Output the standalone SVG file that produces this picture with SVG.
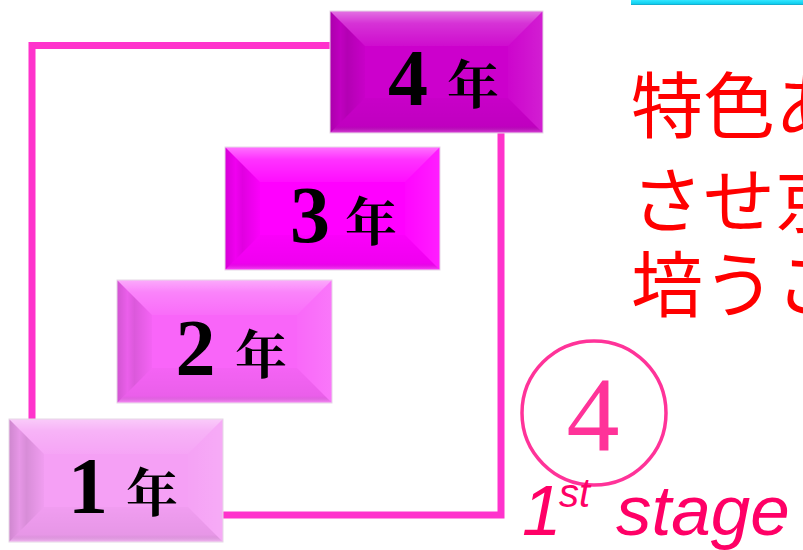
<svg xmlns="http://www.w3.org/2000/svg" width="803" height="550" viewBox="0 0 803 550">
<style>
.frame{fill:none;stroke:#ff33cc;stroke-width:7}
.edge{fill:none;stroke:#e6d8e6;stroke-width:1}
.bt{fill:url(#gTop)}
.bl{fill:url(#gLeft)}
.bb{fill:url(#gBot)}
.br{fill:url(#gRight)}
.num{font-family:"Liberation Serif","Times New Roman",serif;font-weight:bold;font-size:80px;fill:#000;text-anchor:middle}
.nen{font-family:"Noto Serif CJK JP","Noto Sans CJK JP",serif;font-weight:bold;font-size:52px;fill:#000;text-anchor:middle}
.red{font-family:"Noto Sans CJK JP","Noto Sans CJK SC",sans-serif;font-size:72px;fill:#ff0000}
.stage{font-family:"Liberation Sans",Arial,sans-serif;font-style:italic;fill:#ff0066}
.cnum{font-family:"Liberation Serif","Times New Roman",serif;font-size:106px;fill:#ff3399;text-anchor:middle}
</style>
<defs>
<linearGradient id="gTop" x1="0" y1="0" x2="0" y2="1">
<stop offset="0" stop-color="#fff" stop-opacity="0.45"/>
<stop offset="0.35" stop-color="#fff" stop-opacity="0.2"/>
<stop offset="1" stop-color="#fff" stop-opacity="0.05"/>
</linearGradient>
<linearGradient id="gLeft" x1="0" y1="0" x2="1" y2="0">
<stop offset="0" stop-color="#000" stop-opacity="0.16"/>
<stop offset="0.3" stop-color="#000" stop-opacity="0.06"/>
<stop offset="0.5" stop-color="#000" stop-opacity="0.12"/>
<stop offset="1" stop-color="#000" stop-opacity="0.02"/>
</linearGradient>
<linearGradient id="gBot" x1="0" y1="0" x2="0" y2="1">
<stop offset="0" stop-color="#000" stop-opacity="0.02"/>
<stop offset="0.8" stop-color="#000" stop-opacity="0.06"/>
<stop offset="1" stop-color="#fff" stop-opacity="0.3"/>
</linearGradient>
<linearGradient id="gRight" x1="0" y1="0" x2="1" y2="0">
<stop offset="0" stop-color="#fff" stop-opacity="0.02"/>
<stop offset="1" stop-color="#fff" stop-opacity="0.12"/>
</linearGradient>
<linearGradient id="gCyan" x1="0" y1="0" x2="0" y2="1">
<stop offset="0" stop-color="#33e6ff"/>
<stop offset="0.7" stop-color="#11d0f0"/>
<stop offset="1" stop-color="#1a9fc0"/>
</linearGradient>
</defs>

<rect x="631" y="0" width="172" height="5" fill="url(#gCyan)"/>

<g id="connectors">
<rect class="frame" x="32" y="45.5" width="469" height="469.5"/>
</g>

<g id="year4">
<rect x="330" y="11" width="213" height="122" fill="#cc00cc"/>
<polygon class="bt" points="330,11 543,11 508,46 365,46"/>
<polygon class="bl" points="330,11 365,46 365,98 330,133"/>
<polygon class="bb" points="330,133 365,98 508,98 543,133"/>
<polygon class="br" points="543,11 508,46 508,98 543,133"/>
<rect class="edge" x="330" y="11" width="213" height="122"/>
<text class="num" x="408" y="105">4</text>
<text class="nen" x="473" y="104">年</text>
</g>

<g id="year3">
<rect x="225" y="147" width="215" height="123" fill="#ff00ff"/>
<polygon class="bt" points="225,147 440,147 405,182 260,182"/>
<polygon class="bl" points="225,147 260,182 260,235 225,270"/>
<polygon class="bb" points="225,270 260,235 405,235 440,270"/>
<polygon class="br" points="440,147 405,182 405,235 440,270"/>
<rect class="edge" x="225" y="147" width="215" height="123"/>
<text class="num" x="310" y="242">3</text>
<text class="nen" x="371" y="241">年</text>
</g>

<g id="year2">
<rect x="117" y="280" width="215" height="123" fill="#f965f9"/>
<polygon class="bt" points="117,280 332,280 297,315 152,315"/>
<polygon class="bl" points="117,280 152,315 152,368 117,403"/>
<polygon class="bb" points="117,403 152,368 297,368 332,403"/>
<polygon class="br" points="332,280 297,315 297,368 332,403"/>
<rect class="edge" x="117" y="280" width="215" height="123"/>
<text class="num" x="195.5" y="375">2</text>
<text class="nen" x="261" y="374">年</text>
</g>

<g id="year1">
<rect x="9" y="419" width="214" height="123" fill="#f5a0f5"/>
<polygon class="bt" points="9,419 223,419 188,454 44,454"/>
<polygon class="bl" points="9,419 44,454 44,507 9,542"/>
<polygon class="bb" points="9,542 44,507 188,507 223,542"/>
<polygon class="br" points="223,419 188,454 188,507 223,542"/>
<rect class="edge" x="9" y="419" width="214" height="123"/>
<text class="num" x="88" y="513">1</text>
<text class="nen" x="152" y="512">年</text>
</g>

<g id="stage-mark">
<circle cx="594" cy="413" r="72" fill="none" stroke="#ff3399" stroke-width="3.5"/>
<text class="cnum" x="593" y="450">4</text>
<text class="stage" font-size="71"><tspan x="522" y="535">1</tspan><tspan x="559" y="507" font-size="40">st</tspan><tspan x="616" y="535">stage</tspan></text>
</g>

<g id="red-text">
<text class="red" x="631" y="132">特色あ</text>
<text class="red" x="631" y="227">させ京</text>
<text class="red" x="631" y="311">培うこ</text>
</g>
</svg>
